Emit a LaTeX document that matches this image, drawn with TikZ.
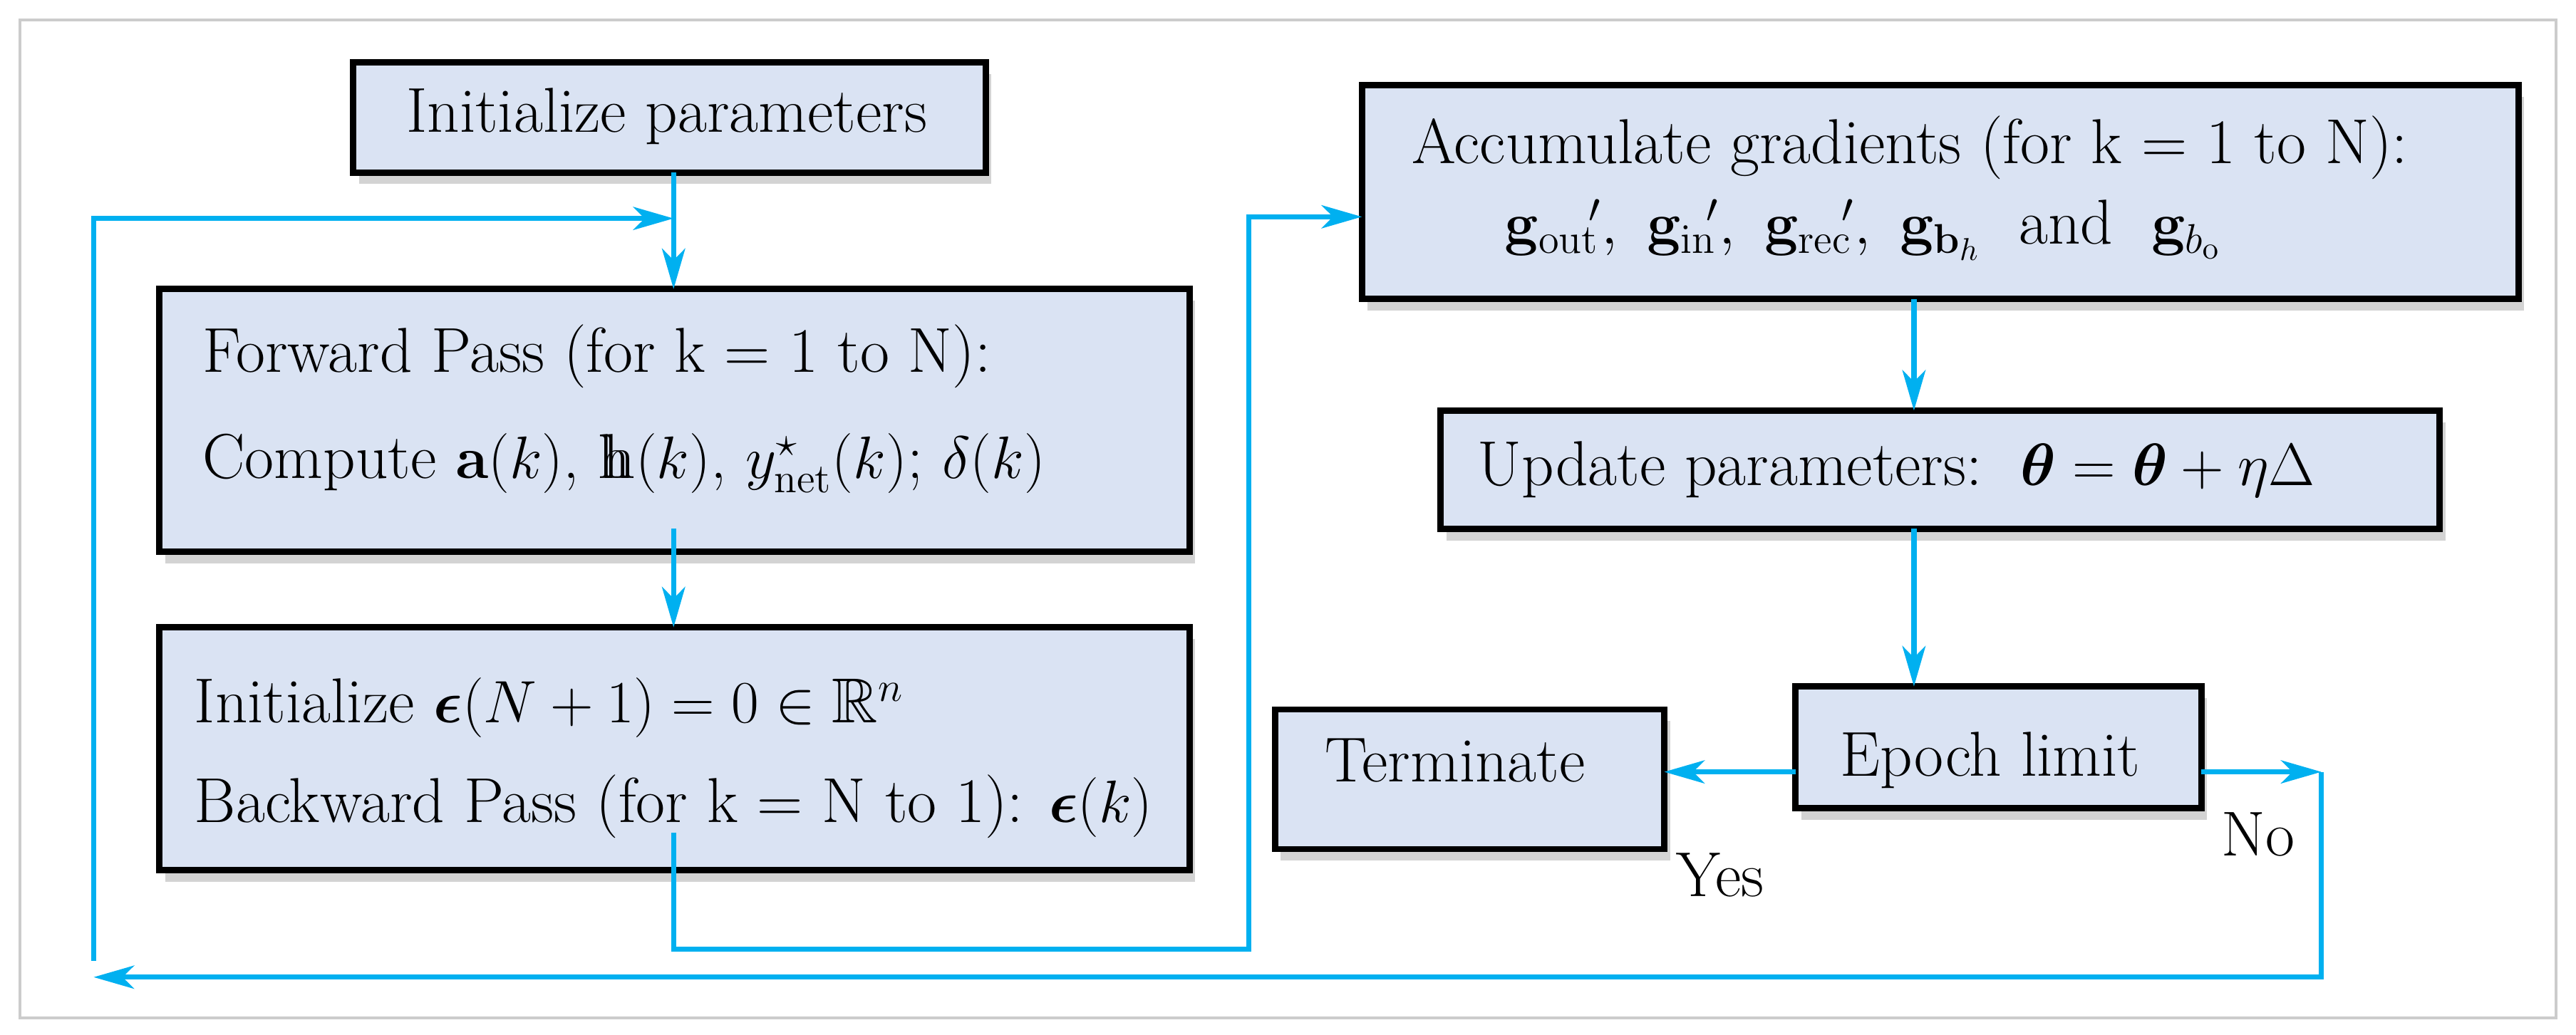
\documentclass[tikz,border=0pt]{standalone}
\usepackage{amsmath,amssymb,bm}
\usetikzlibrary{arrows.meta,shadows}
\definecolor{boxfill}{HTML}{DAE3F3}
\definecolor{arr}{HTML}{00B0F0}
\newcommand{\dblh}{\text{\rlap{h}\kern0.08em h}}
\begin{document}
\begin{tikzpicture}[x=0.02cm,y=-0.02cm,
  box/.style={draw=black,line width=2.2pt,fill=boxfill,drop shadow={shadow xshift=2pt,shadow yshift=-4pt,opacity=0.35},inner sep=0pt},
  txt/.style={font=\fontsize{22}{26}\selectfont,anchor=west,inner sep=0pt},
  flow/.style={draw=arr,line width=1.8pt},
  tip/.style={-{Stealth[length=14pt,width=8pt,inset=4pt]}}]
\useasboundingbox (0,0) rectangle (1568,630);
\draw[gray!40,line width=1pt] (12,12) rectangle (1556,620);
% boxes
\draw[box] (215,38) rectangle (600,105);
\node[txt] (init) at (247,71) {Initialize parameters};
\coordinate (initB) at (410,105);
\draw[box] (97,176) rectangle (724,336);
\node[txt] (fw1) at (123,217) {Forward Pass (for k = 1 to N):};
\node[txt] (fw2) at (123,282) {Compute $\mathbf{a}(k)$, $\dblh(k)$, $y^{\star}_{\mathrm{net}}(k)$; $\delta(k)$};
\coordinate (fwT) at (410,176);
\coordinate (fwB) at (410,322);
\draw[box] (97,382) rectangle (724,530);
\node[txt] (bw1) at (118,431) {Initialize $\bm{\epsilon}(N+1)=0\in\mathbb{R}^n$};
\node[txt] (bw2) at (118,491) {Backward Pass (for k = N to 1): $\bm{\epsilon}(k)$};
\coordinate (bwT) at (410,382);
\coordinate (bwB) at (410,507);
\draw[box] (829,52) rectangle (1533,182);
\node[txt] (acc1) at (859,90) {Accumulate gradients (for k = 1 to N):};
\node[txt,anchor=center] (acc2) at (1134,140) {$\mathbf{g}_{\mathrm{out}}\!{}',\ \mathbf{g}_{\mathrm{in}}\!{}',\ \mathbf{g}_{\mathrm{rec}}\!{}',\ \mathbf{g}_{\mathbf{b}_h}$\ \ and\ \ $\mathbf{g}_{b_{\mathrm{o}}}$};
\coordinate (accL) at (829,132);
\coordinate (accB) at (1165,182);
\draw[box] (877,250) rectangle (1485,322);
\node[txt] (upd) at (899,286) {Update parameters:\ \ $\bm{\theta}=\bm{\theta}+\eta\Delta$};
\coordinate (updT) at (1165,250);
\coordinate (updB) at (1165,322);
\draw[box] (1093,418) rectangle (1340,492);
\node[txt] (ep) at (1120,463) {Epoch limit};
\coordinate (epT) at (1165,418);
\coordinate (epL) at (1093,470);
\coordinate (epR) at (1340,470);
\draw[box] (776,432) rectangle (1013,517);
\node[txt] (term) at (806,463) {Terminate};
\coordinate (termR) at (1013,470);
\node[txt] (yes) at (1020,533) {Yes};
\node[txt] (no) at (1352,508) {No};
% connectors
\coordinate (nE) at (1413,470);
\coordinate (nB) at (1413,595);
\coordinate (lB) at (57,595);
\coordinate (lB2) at (57,585);
\coordinate (lT) at (57,133);
\coordinate (jT) at (410,133);
\coordinate (bwD) at (410,578);
\coordinate (mD) at (760,578);
\coordinate (mT) at (760,132);
\draw[flow,tip] (initB) -- (fwT);
\draw[flow,tip] (lB2) -- (lT) -- (jT);
\draw[flow,tip] (fwB) -- (bwT);
\draw[flow,tip] (bwB) -- (bwD) -- (mD) -- (mT) -- (accL);
\draw[flow,tip] (accB) -- (updT);
\draw[flow,tip] (updB) -- (epT);
\draw[flow,tip] (epL) -- (termR);
\draw[flow,tip] (epR) -- (nE);
\draw[flow,tip] (nE) -- (nB) -- (lB);
\end{tikzpicture}
\end{document}
